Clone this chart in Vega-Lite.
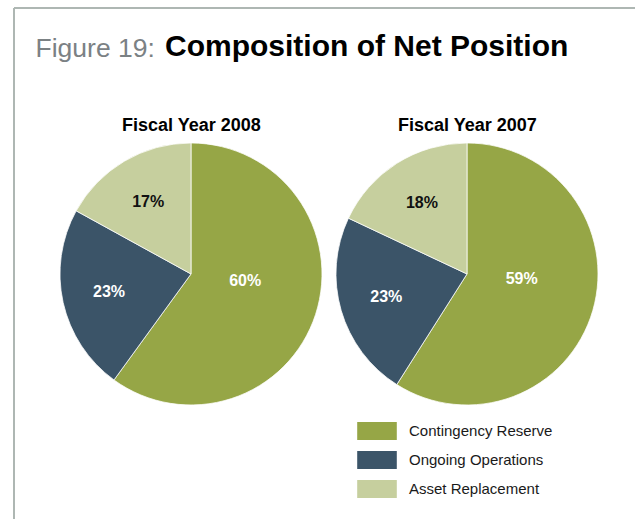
{
  "$schema": "https://vega.github.io/schema/vega-lite/v6.json",
  "autosize": {"type": "none"},
  "padding": {"left": 14, "top": 8, "right": 0, "bottom": 0},
  "width": 621,
  "height": 511,
  "background": "white",
  "title": {
    "text": "Composition of Net Position",
    "anchor": "start",
    "frame": "group",
    "font": "Liberation Sans",
    "fontSize": 30,
    "fontWeight": "bold",
    "color": "#000000",
    "dx": 151,
    "dy": 78,
    "offset": 0,
    "baseline": "alphabetic"
  },
  "data": {
    "values": [
      {"year": "Fiscal Year 2008", "category": "Contingency Reserve", "share": 0.60},
      {"year": "Fiscal Year 2008", "category": "Ongoing Operations", "share": 0.23},
      {"year": "Fiscal Year 2008", "category": "Asset Replacement", "share": 0.17},
      {"year": "Fiscal Year 2007", "category": "Contingency Reserve", "share": 0.59},
      {"year": "Fiscal Year 2007", "category": "Ongoing Operations", "share": 0.23},
      {"year": "Fiscal Year 2007", "category": "Asset Replacement", "share": 0.18}
    ]
  },
  "encoding": {
    "x": {
      "field": "year",
      "type": "nominal",
      "sort": ["Fiscal Year 2008", "Fiscal Year 2007"],
      "scale": {"type": "point", "padding": 0.625, "align": 0.513},
      "axis": {
        "orient": "top",
        "offset": -122,
        "domain": false,
        "ticks": false,
        "grid": false,
        "labelPadding": 0,
        "labelBaseline": "alphabetic",
        "labelFont": "Liberation Sans",
        "labelFontSize": 18,
        "labelFontWeight": "bold",
        "labelColor": "#000000",
        "labelAngle": 0,
        "labelLimit": 300,
        "title": "Figure 19:",
        "titleX": 21,
        "titleY": -74,
        "titleAlign": "left",
        "titleBaseline": "alphabetic",
        "titleAngle": 0,
        "titleFont": "Liberation Sans",
        "titleFontSize": 26.5,
        "titleFontWeight": "normal",
        "titleColor": "#7b8184"
      }
    },
    "y": {
      "datum": "pie",
      "type": "nominal",
      "scale": {"type": "point", "padding": 0.5, "align": 0.5205},
      "axis": null
    }
  },
  "layer": [
    {
      "transform": [
        {"stack": "share", "groupby": ["year"], "sort": [{"field": "share", "order": "descending"}], "as": ["start", "end"]}
      ],
      "mark": {"type": "arc", "outerRadius": 131, "stroke": "white", "strokeWidth": 0.75},
      "encoding": {
        "theta": {"field": "start", "type": "quantitative", "scale": {"domain": [0, 1]}},
        "theta2": {"field": "end"},
        "color": {
          "field": "category",
          "type": "nominal",
          "scale": {
            "domain": ["Contingency Reserve", "Ongoing Operations", "Asset Replacement"],
            "range": ["#96a646", "#3b5468", "#c6cf9e"]
          },
          "legend": {
            "orient": "none",
            "legendX": 354,
            "legendY": 414,
            "title": null,
            "padding": 0,
            "symbolType": "M-2.2,-1H2.2V1H-2.2Z",
            "symbolSize": 324,
            "symbolStrokeWidth": 0,
            "symbolOpacity": 1,
            "labelOffset": 23,
            "rowPadding": 11,
            "labelLimit": 300,
            "labelFont": "Liberation Sans",
            "labelFontSize": 15,
            "labelColor": "#1a1a1a"
          }
        }
      }
    },
    {
      "mark": {"type": "text", "font": "Liberation Sans", "fontSize": 16, "fontWeight": "bold", "dy": -11},
      "encoding": {
        "theta": {"field": "share", "type": "quantitative", "stack": true},
        "order": {"field": "share", "sort": "descending"},
        "detail": {"field": "category"},
        "radius": {"field": "year", "type": "nominal", "scale": {"type": "point", "range": [57, 57]}},
        "text": {"field": "share", "type": "quantitative", "format": ".0%", "condition": {"test": "datum.share < 0.5", "value": ""}},
        "color": {"value": "white"}
      }
    },
    {
      "mark": {"type": "text", "font": "Liberation Sans", "fontSize": 16, "fontWeight": "bold"},
      "encoding": {
        "theta": {"field": "share", "type": "quantitative", "stack": true},
        "order": {"field": "share", "sort": "descending"},
        "detail": {"field": "category"},
        "radius": {"field": "year", "type": "nominal", "scale": {"type": "point", "range": [84, 84]}},
        "text": {"field": "share", "type": "quantitative", "format": ".0%", "condition": {"test": "datum.share >= 0.5", "value": ""}},
        "color": {"condition": {"test": "datum.category === 'Asset Replacement'", "value": "#111111"}, "value": "white"}
      }
    }
  ],
  "resolve": {"scale": {"radius": "independent"}},
  "config": {
    "view": {"stroke": "#aeb7b3", "strokeWidth": 2, "strokeDash": [621, 1132, 511, 0]}
  }
}
